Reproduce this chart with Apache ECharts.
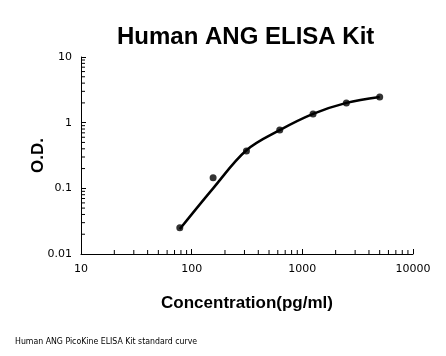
<!DOCTYPE html>
<html><head><meta charset="utf-8">
<script src="https://cdn.jsdelivr.net/npm/echarts@6/dist/echarts.min.js"></script>
<style>html,body{margin:0;padding:0;background:#fff}#c{width:446px;height:356px}</style>
</head><body><div id="c"></div>
<script>
const concentrations = [78.125, 156.25, 312.5, 625, 1250, 2500, 5000];
const odValues = [0.025, 0.145, 0.37, 0.77, 1.36, 2.0, 2.46];
const curveConc = [78.125, 156.25, 312.5, 625, 1250, 2500, 5000];
const curveOD = [0.024, 0.1, 0.38, 0.77, 1.36, 2.0, 2.46];
const xTickLabels = [10, 100, 1000, 10000];
const yTickLabels = [0.01, 0.1, 1, 10];

const chart = echarts.init(document.getElementById('c'));
const axisCommon = {
  axisLine: {show: true, lineStyle: {color: '#000', width: 1}},
  axisTick: {show: true, inside: true, length: 5, lineStyle: {color: '#000'}},
  minorTick: {show: false},
  splitLine: {show: false},
  axisLabel: {color: '#000', fontSize: 11, fontFamily: 'DejaVu Sans'}
};
const footnote = {type: 'text', left: 15, top: 337, silent: true,
  style: {text: 'Human ANG PicoKine ELISA Kit standard curve', fontFamily: 'DejaVu Sans Condensed', fontWeight: 'normal', fontSize: 8.7, fill: '#000'}};
chart.setOption({
  animation: false,
  title: {
    text: 'Human ANG ELISA Kit', left: 112, top: 20,
    textStyle: {fontFamily: 'Liberation Sans', fontWeight: 'bold', fontSize: 24, color: '#000'}
  },
  grid: {left: 81, right: 33, top: 57, bottom: 102},
  xAxis: Object.assign({}, axisCommon, {
    type: 'log', logBase: 10, min: 10, max: 10000,
    name: 'Concentration(pg/ml)', nameLocation: 'middle', nameGap: 41, nameMoveOverlap: false,
    nameTextStyle: {fontFamily: 'Liberation Sans', fontWeight: 'bold', fontSize: 17, color: '#000'},
    axisLabel: Object.assign({}, axisCommon.axisLabel, {margin: 10,
      formatter: v => xTickLabels.includes(Math.round(v)) ? String(Math.round(v)) : ''})
  }),
  yAxis: Object.assign({}, axisCommon, {
    type: 'log', logBase: 10, min: 0.01, max: 10,
    name: 'O.D.', nameLocation: 'middle', nameGap: 34, nameMoveOverlap: false,
    nameTextStyle: {fontFamily: 'Liberation Sans', fontWeight: 'bold', fontSize: 17, color: '#000'},
    axisLabel: Object.assign({}, axisCommon.axisLabel, {margin: 9,
      formatter: v => { const m = yTickLabels.find(t => Math.abs(t - v) / t < 1e-6); return m === undefined ? '' : String(m); }})
  }),
  series: [
    {type: 'line', data: curveConc.map((c, i) => [c, curveOD[i]]), smooth: 0.35, showSymbol: false,
     lineStyle: {color: '#000', width: 2.5}, z: 2},
    {type: 'scatter', data: concentrations.map((c, i) => [c, odValues[i]]), symbolSize: 7,
     itemStyle: {color: '#000'}, z: 3}
  ]
});

// minor ticks at 2..9 within each decade, placed via the axis scales
const minor = [];
const tl = 4;
for (let d = 10; d < 10000; d *= 10) {
  for (let k = 2; k <= 9; k++) {
    const p = chart.convertToPixel({gridIndex: 0}, [d * k, 0.01]);
    minor.push({type: 'line', silent: true, shape: {x1: p[0], y1: p[1], x2: p[0], y2: p[1] - tl}, style: {stroke: '#000', lineWidth: 1}});
  }
}
for (let d = 0.01; d < 9; d *= 10) {
  for (let k = 2; k <= 9; k++) {
    const p = chart.convertToPixel({gridIndex: 0}, [10, d * k]);
    minor.push({type: 'line', silent: true, shape: {x1: p[0], y1: p[1], x2: p[0] + tl, y2: p[1]}, style: {stroke: '#000', lineWidth: 1}});
  }
}
chart.setOption({graphic: [footnote].concat(minor)});
</script></body></html>
